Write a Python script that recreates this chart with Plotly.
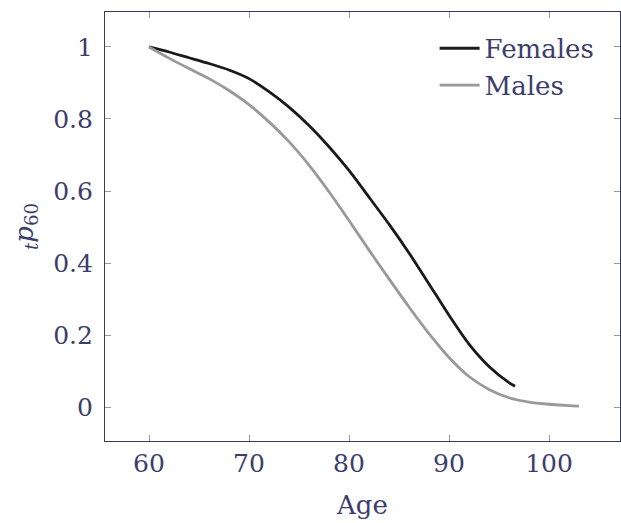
import plotly.graph_objects as go

fem_age = [60, 62, 64, 66, 68, 70, 72, 74, 76, 78, 80, 82, 84, 86, 88, 90, 92, 94, 96, 96.6]
fem_p = [1.000, 0.986, 0.970, 0.954, 0.936, 0.912, 0.876, 0.833, 0.782, 0.723, 0.657,
         0.583, 0.508, 0.428, 0.342, 0.255, 0.175, 0.113, 0.068, 0.058]

male_age = [60, 62, 64, 66, 68, 70, 72, 74, 76, 78, 80, 82, 84, 86, 88, 90, 92, 94, 96,
            98, 100, 102, 103]
male_p = [1.000, 0.969, 0.940, 0.912, 0.879, 0.840, 0.792, 0.737, 0.672, 0.598, 0.518,
          0.436, 0.356, 0.278, 0.204, 0.138, 0.085, 0.049, 0.026, 0.014, 0.008, 0.004, 0.003]

x_ticks = [60, 70, 80, 90, 100]
y_ticks = [0, 0.2, 0.4, 0.6, 0.8, 1]
y_tick_text = ["0", "0.2", "0.4", "0.6", "0.8", "1"]

txt = "#3d3d6b"
fnt = "DejaVu Serif"

fig = go.Figure()
fig.add_trace(go.Scatter(x=fem_age, y=fem_p, mode="lines", name="Females",
                         line=dict(color="#1a1a1a", width=2.8, shape="spline", smoothing=0.6)))
fig.add_trace(go.Scatter(x=male_age, y=male_p, mode="lines", name="Males",
                         line=dict(color="#999999", width=2.8, shape="spline", smoothing=0.6)))

axis_common = dict(showgrid=False, zeroline=False, showline=True, linecolor="#3a3a5e",
                   linewidth=1.2, mirror="allticks", ticks="inside", ticklen=6,
                   tickcolor="#999999", tickwidth=1,
                   tickfont=dict(family=fnt, size=25, color=txt))

fig.update_xaxes(range=[55.6, 107.1], tickvals=x_ticks,
                 title=dict(text="Age", font=dict(family=fnt, size=26, color=txt), standoff=18),
                 **axis_common)
fig.update_yaxes(range=[-0.094, 1.097], tickvals=y_ticks, ticktext=y_tick_text,
                 ticklabelstandoff=6,
                 title=dict(text="<sub><i>t</i></sub><i>p</i><sub>60</sub>",
                            font=dict(family=fnt, size=26, color=txt), standoff=12),
                 **axis_common)

fig.update_layout(width=621, height=523, margin=dict(l=105, r=1, t=12, b=82),
                  plot_bgcolor="white", paper_bgcolor="white",
                  legend=dict(x=0.64, y=0.97, xanchor="left", yanchor="top",
                              font=dict(family=fnt, size=26, color=txt),
                              bgcolor="rgba(0,0,0,0)", tracegroupgap=0, itemwidth=40))

fig.write_html("out.html")
